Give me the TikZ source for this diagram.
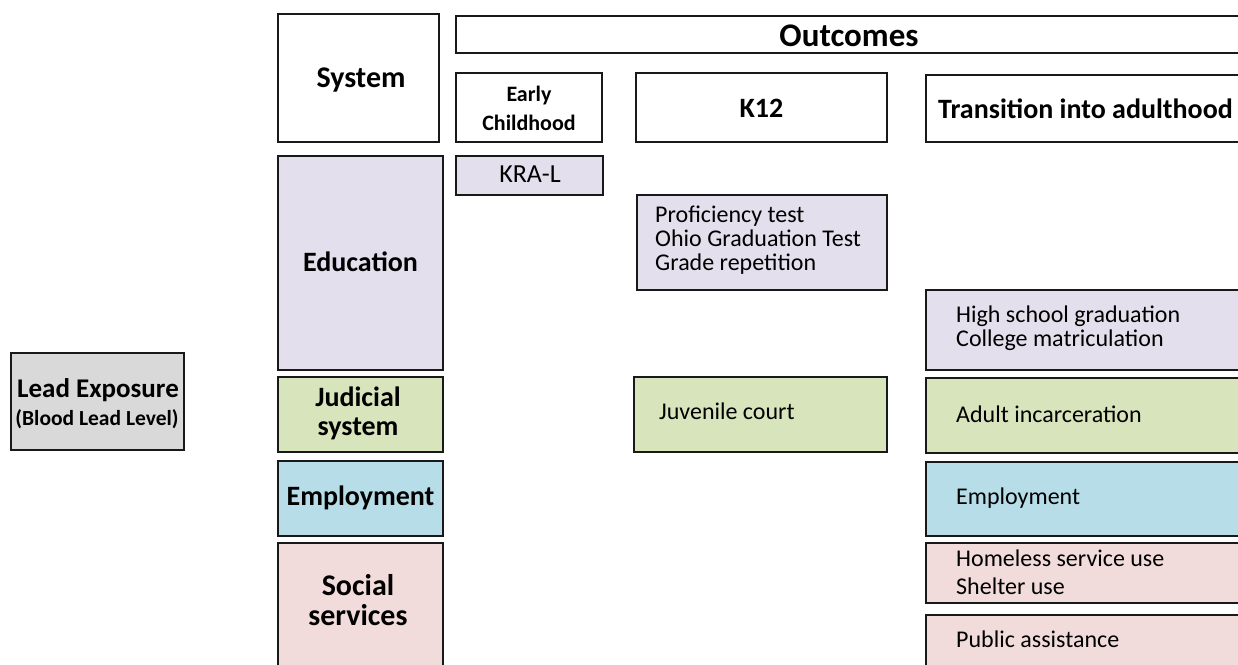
\documentclass[tikz,border=0pt]{standalone}
\usepackage{fontspec}
\setmainfont{Carlito}
\definecolor{lav}{HTML}{E4DFEC}
\definecolor{grn}{HTML}{D8E4BC}
\definecolor{blu}{HTML}{B7DEE8}
\definecolor{pnk}{HTML}{F2DCDB}
\definecolor{gry}{HTML}{D9D9D9}
\tikzset{
  box/.style={draw=black!90, line width=2.6pt, inner sep=0pt, outer sep=0pt, anchor=north west},
  hd/.style={font=\fontsize{28}{29}\selectfont\bfseries, align=center, inner sep=0pt},
  bd/.style={font=\fontsize{24}{24}\selectfont, align=left, inner sep=0pt, anchor=west},
}
\begin{document}
\begin{tikzpicture}[x=1pt,y=-1pt]
\useasboundingbox (0,0) rectangle (1238,664);
\clip (0,0) rectangle (1238,664);
% left
\node[box, fill=gry, minimum width=173pt, minimum height=97pt] (lead) at (11,353) {};
\node[hd, font=\fontsize{27}{30}\selectfont\bfseries] (leadt) at (98,390) {Lead Exposure};
\node[hd, font=\fontsize{21.5}{24}\selectfont\bfseries] (leadt2) at (97,419) {(Blood Lead Level)};
% system column
\node[box, fill=white, minimum width=161pt, minimum height=128pt] (sys) at (278,14) {};
\node[hd, font=\fontsize{30}{32}\selectfont\bfseries] (syst) at (361,80) {System};
\node[box, fill=lav, minimum width=165pt, minimum height=214pt] (edu) at (278,156) {};
\node[hd] (edut) at (360.5,262) {Education};
\node[box, fill=grn, minimum width=165pt, minimum height=75pt] (jud) at (278,377) {};
\node[hd] (judt) at (358,413) {Judicial\\system};
\node[box, fill=blu, minimum width=165pt, minimum height=75pt] (emp) at (278,461) {};
\node[hd] (empt) at (360.5,498) {Employment};
\node[box, fill=pnk, minimum width=165pt, minimum height=140pt] (soc) at (278,543) {};
\node[hd, font=\fontsize{30}{30}\selectfont\bfseries] (soct) at (358,600) {Social\\services};
% outcomes header
\node[box, fill=white, minimum width=820pt, minimum height=37pt] (out) at (456,16) {};
\node[hd, font=\fontsize{33}{35}\selectfont\bfseries] (outt) at (849,36) {Outcomes};
\node[box, fill=white, minimum width=146pt, minimum height=69pt] (early) at (456,73) {};
\node[hd, font=\fontsize{22}{29}\selectfont\bfseries] (earlyt) at (529,108) {Early\\Childhood};
\node[box, fill=white, minimum width=251pt, minimum height=69pt] (k12) at (636,73) {};
\node[hd] (k12t) at (761.5,108) {K12};
\node[box, fill=white, minimum width=340pt, minimum height=67pt] (trans) at (926,75) {};
\node[hd, anchor=west] (transt) at (938,109) {Transition into adulthood};
% early childhood
\node[box, fill=lav, minimum width=147pt, minimum height=39pt] (kra) at (456,156) {};
\node[bd, font=\fontsize{26}{26}\selectfont, anchor=center] (krat) at (530,174) {KRA-L};
% K12
\node[box, fill=lav, minimum width=250pt, minimum height=95pt] (prof) at (637,195) {};
\node[bd] (proft) at (655,240) {Proficiency test\\Ohio Graduation Test\\Grade repetition};
\node[box, fill=grn, minimum width=253pt, minimum height=75pt] (juv) at (634,377) {};
\node[bd] (juvt) at (659,411) {Juvenile court};
% transition
\node[box, fill=lav, minimum width=340pt, minimum height=80pt] (hs) at (926,290) {};
\node[bd] (hst) at (956,328) {High school graduation\\College matriculation};
\node[box, fill=grn, minimum width=340pt, minimum height=75pt] (adult) at (926,378) {};
\node[bd] (adultt) at (956,414) {Adult incarceration};
\node[box, fill=blu, minimum width=340pt, minimum height=74pt] (emp2) at (926,462) {};
\node[bd] (emp2t) at (956,498) {Employment};
\node[box, fill=pnk, minimum width=340pt, minimum height=60pt] (home) at (926,543) {};
\node[bd, font=\fontsize{24}{28}\selectfont] (homet) at (956,572) {Homeless service use\\Shelter use};
\node[box, fill=pnk, minimum width=340pt, minimum height=80pt] (pub) at (926,615) {};
\node[bd] (pubt) at (956,639) {Public assistance};
\end{tikzpicture}
\end{document}
